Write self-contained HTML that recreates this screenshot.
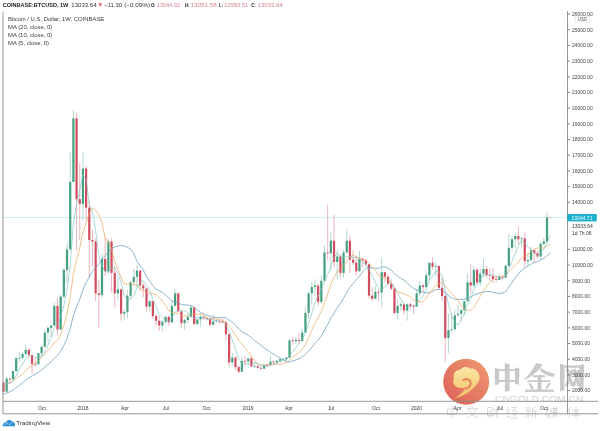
<!DOCTYPE html>
<html><head><meta charset="utf-8"><style>
html,body{margin:0;padding:0;background:#fff;}
body{width:600px;height:431px;overflow:hidden;position:relative;}
svg{position:absolute;left:0;top:0;filter:blur(0.4px);}
text{font-family:"Liberation Sans",sans-serif;}
</style></head><body>
<svg width="600" height="431" viewBox="0 0 600 431">
<rect x="0" y="0" width="600" height="431" fill="#fff"/>
<!-- price line -->
<line x1="3" y1="217.4" x2="567" y2="217.4" stroke="#cdeef0" stroke-width="1"/>
<g>
<line x1="3.47" y1="380.87" x2="3.47" y2="393.11" stroke="#d04c5e" stroke-width="0.6" stroke-opacity="0.7"/>
<rect x="2.37" y="382.75" width="2.2" height="8.94" fill="#d04c5e"/>
<line x1="6.65" y1="376.48" x2="6.65" y2="392.48" stroke="#45a07f" stroke-width="0.6" stroke-opacity="0.7"/>
<rect x="5.55" y="378.68" width="2.2" height="13.02" fill="#45a07f"/>
<line x1="9.82" y1="378.05" x2="9.82" y2="384.01" stroke="#d04c5e" stroke-width="0.6" stroke-opacity="0.7"/>
<rect x="8.72" y="378.68" width="2.2" height="0.80" fill="#d04c5e"/>
<line x1="13.00" y1="370.20" x2="13.00" y2="380.40" stroke="#45a07f" stroke-width="0.6" stroke-opacity="0.7"/>
<rect x="11.90" y="371.14" width="2.2" height="8.00" fill="#45a07f"/>
<line x1="16.18" y1="356.08" x2="16.18" y2="371.77" stroke="#45a07f" stroke-width="0.6" stroke-opacity="0.7"/>
<rect x="15.08" y="358.28" width="2.2" height="12.87" fill="#45a07f"/>
<line x1="19.36" y1="351.69" x2="19.36" y2="361.57" stroke="#45a07f" stroke-width="0.6" stroke-opacity="0.7"/>
<rect x="18.26" y="357.81" width="2.2" height="0.80" fill="#45a07f"/>
<line x1="22.54" y1="351.69" x2="22.54" y2="359.53" stroke="#45a07f" stroke-width="0.6" stroke-opacity="0.7"/>
<rect x="21.44" y="353.89" width="2.2" height="3.92" fill="#45a07f"/>
<line x1="25.72" y1="344.63" x2="25.72" y2="354.51" stroke="#45a07f" stroke-width="0.6" stroke-opacity="0.7"/>
<rect x="24.62" y="349.81" width="2.2" height="4.08" fill="#45a07f"/>
<line x1="28.90" y1="348.24" x2="28.90" y2="359.22" stroke="#d04c5e" stroke-width="0.6" stroke-opacity="0.7"/>
<rect x="27.80" y="349.81" width="2.2" height="5.18" fill="#d04c5e"/>
<line x1="32.07" y1="354.98" x2="32.07" y2="373.81" stroke="#d04c5e" stroke-width="0.6" stroke-opacity="0.7"/>
<rect x="30.97" y="354.98" width="2.2" height="8.94" fill="#d04c5e"/>
<line x1="35.25" y1="357.65" x2="35.25" y2="367.06" stroke="#d04c5e" stroke-width="0.6" stroke-opacity="0.7"/>
<rect x="34.15" y="363.93" width="2.2" height="0.80" fill="#d04c5e"/>
<line x1="38.43" y1="352.94" x2="38.43" y2="364.71" stroke="#45a07f" stroke-width="0.6" stroke-opacity="0.7"/>
<rect x="37.33" y="353.26" width="2.2" height="10.98" fill="#45a07f"/>
<line x1="41.61" y1="345.88" x2="41.61" y2="356.08" stroke="#45a07f" stroke-width="0.6" stroke-opacity="0.7"/>
<rect x="40.51" y="346.82" width="2.2" height="6.43" fill="#45a07f"/>
<line x1="44.79" y1="330.19" x2="44.79" y2="347.14" stroke="#45a07f" stroke-width="0.6" stroke-opacity="0.7"/>
<rect x="43.69" y="332.55" width="2.2" height="14.28" fill="#45a07f"/>
<line x1="47.97" y1="326.27" x2="47.97" y2="341.96" stroke="#45a07f" stroke-width="0.6" stroke-opacity="0.7"/>
<rect x="46.87" y="327.84" width="2.2" height="4.71" fill="#45a07f"/>
<line x1="51.15" y1="324.70" x2="51.15" y2="337.25" stroke="#45a07f" stroke-width="0.6" stroke-opacity="0.7"/>
<rect x="50.05" y="325.49" width="2.2" height="2.35" fill="#45a07f"/>
<line x1="54.32" y1="302.74" x2="54.32" y2="326.27" stroke="#45a07f" stroke-width="0.6" stroke-opacity="0.7"/>
<rect x="53.22" y="305.87" width="2.2" height="19.61" fill="#45a07f"/>
<line x1="57.50" y1="298.34" x2="57.50" y2="335.69" stroke="#d04c5e" stroke-width="0.6" stroke-opacity="0.7"/>
<rect x="56.40" y="305.87" width="2.2" height="23.54" fill="#d04c5e"/>
<line x1="60.68" y1="294.89" x2="60.68" y2="330.19" stroke="#45a07f" stroke-width="0.6" stroke-opacity="0.7"/>
<rect x="59.58" y="296.46" width="2.2" height="32.95" fill="#45a07f"/>
<line x1="63.86" y1="268.22" x2="63.86" y2="298.03" stroke="#45a07f" stroke-width="0.6" stroke-opacity="0.7"/>
<rect x="62.76" y="269.79" width="2.2" height="26.67" fill="#45a07f"/>
<line x1="67.04" y1="243.11" x2="67.04" y2="282.34" stroke="#45a07f" stroke-width="0.6" stroke-opacity="0.7"/>
<rect x="65.94" y="249.39" width="2.2" height="20.40" fill="#45a07f"/>
<line x1="70.22" y1="152.11" x2="70.22" y2="249.39" stroke="#45a07f" stroke-width="0.6" stroke-opacity="0.7"/>
<rect x="69.12" y="181.92" width="2.2" height="67.47" fill="#45a07f"/>
<line x1="73.39" y1="109.91" x2="73.39" y2="181.92" stroke="#45a07f" stroke-width="0.6" stroke-opacity="0.7"/>
<rect x="72.30" y="118.38" width="2.2" height="63.54" fill="#45a07f"/>
<line x1="76.57" y1="112.89" x2="76.57" y2="250.96" stroke="#d04c5e" stroke-width="0.6" stroke-opacity="0.7"/>
<rect x="75.47" y="118.38" width="2.2" height="80.80" fill="#d04c5e"/>
<line x1="79.75" y1="163.10" x2="79.75" y2="239.98" stroke="#d04c5e" stroke-width="0.6" stroke-opacity="0.7"/>
<rect x="78.65" y="199.18" width="2.2" height="4.71" fill="#d04c5e"/>
<line x1="82.93" y1="152.11" x2="82.93" y2="221.15" stroke="#45a07f" stroke-width="0.6" stroke-opacity="0.7"/>
<rect x="81.83" y="168.59" width="2.2" height="35.30" fill="#45a07f"/>
<line x1="86.11" y1="166.23" x2="86.11" y2="221.15" stroke="#d04c5e" stroke-width="0.6" stroke-opacity="0.7"/>
<rect x="85.01" y="168.59" width="2.2" height="39.07" fill="#d04c5e"/>
<line x1="89.29" y1="200.75" x2="89.29" y2="277.63" stroke="#d04c5e" stroke-width="0.6" stroke-opacity="0.7"/>
<rect x="88.19" y="207.65" width="2.2" height="32.32" fill="#d04c5e"/>
<line x1="92.47" y1="229.78" x2="92.47" y2="266.65" stroke="#d04c5e" stroke-width="0.6" stroke-opacity="0.7"/>
<rect x="91.37" y="239.98" width="2.2" height="1.57" fill="#d04c5e"/>
<line x1="95.64" y1="238.41" x2="95.64" y2="301.17" stroke="#d04c5e" stroke-width="0.6" stroke-opacity="0.7"/>
<rect x="94.54" y="241.55" width="2.2" height="51.78" fill="#d04c5e"/>
<line x1="98.82" y1="279.20" x2="98.82" y2="327.84" stroke="#d04c5e" stroke-width="0.6" stroke-opacity="0.7"/>
<rect x="97.72" y="293.32" width="2.2" height="1.57" fill="#d04c5e"/>
<line x1="102.00" y1="254.10" x2="102.00" y2="298.03" stroke="#45a07f" stroke-width="0.6" stroke-opacity="0.7"/>
<rect x="100.90" y="258.80" width="2.2" height="36.09" fill="#45a07f"/>
<line x1="105.18" y1="236.84" x2="105.18" y2="276.06" stroke="#d04c5e" stroke-width="0.6" stroke-opacity="0.7"/>
<rect x="104.08" y="258.80" width="2.2" height="12.55" fill="#d04c5e"/>
<line x1="108.36" y1="238.41" x2="108.36" y2="274.49" stroke="#45a07f" stroke-width="0.6" stroke-opacity="0.7"/>
<rect x="107.26" y="241.55" width="2.2" height="29.81" fill="#45a07f"/>
<line x1="111.54" y1="238.41" x2="111.54" y2="291.75" stroke="#d04c5e" stroke-width="0.6" stroke-opacity="0.7"/>
<rect x="110.44" y="241.55" width="2.2" height="31.38" fill="#d04c5e"/>
<line x1="114.72" y1="266.65" x2="114.72" y2="307.44" stroke="#d04c5e" stroke-width="0.6" stroke-opacity="0.7"/>
<rect x="113.62" y="272.93" width="2.2" height="20.40" fill="#d04c5e"/>
<line x1="117.89" y1="277.63" x2="117.89" y2="299.60" stroke="#45a07f" stroke-width="0.6" stroke-opacity="0.7"/>
<rect x="116.79" y="289.40" width="2.2" height="3.92" fill="#45a07f"/>
<line x1="121.07" y1="288.62" x2="121.07" y2="320.78" stroke="#d04c5e" stroke-width="0.6" stroke-opacity="0.7"/>
<rect x="119.97" y="289.40" width="2.2" height="24.32" fill="#d04c5e"/>
<line x1="124.25" y1="309.01" x2="124.25" y2="320.00" stroke="#45a07f" stroke-width="0.6" stroke-opacity="0.7"/>
<rect x="123.15" y="312.15" width="2.2" height="1.57" fill="#45a07f"/>
<line x1="127.43" y1="290.18" x2="127.43" y2="318.43" stroke="#45a07f" stroke-width="0.6" stroke-opacity="0.7"/>
<rect x="126.33" y="295.68" width="2.2" height="16.47" fill="#45a07f"/>
<line x1="130.61" y1="280.77" x2="130.61" y2="299.60" stroke="#45a07f" stroke-width="0.6" stroke-opacity="0.7"/>
<rect x="129.51" y="282.34" width="2.2" height="13.34" fill="#45a07f"/>
<line x1="133.79" y1="269.00" x2="133.79" y2="284.69" stroke="#45a07f" stroke-width="0.6" stroke-opacity="0.7"/>
<rect x="132.69" y="276.85" width="2.2" height="5.49" fill="#45a07f"/>
<line x1="136.97" y1="265.24" x2="136.97" y2="287.05" stroke="#45a07f" stroke-width="0.6" stroke-opacity="0.7"/>
<rect x="135.87" y="270.57" width="2.2" height="6.28" fill="#45a07f"/>
<line x1="140.14" y1="270.57" x2="140.14" y2="290.97" stroke="#d04c5e" stroke-width="0.6" stroke-opacity="0.7"/>
<rect x="139.04" y="270.57" width="2.2" height="14.91" fill="#d04c5e"/>
<line x1="143.32" y1="282.65" x2="143.32" y2="297.24" stroke="#d04c5e" stroke-width="0.6" stroke-opacity="0.7"/>
<rect x="142.22" y="285.48" width="2.2" height="3.14" fill="#d04c5e"/>
<line x1="146.50" y1="287.83" x2="146.50" y2="311.37" stroke="#d04c5e" stroke-width="0.6" stroke-opacity="0.7"/>
<rect x="145.40" y="288.62" width="2.2" height="18.04" fill="#d04c5e"/>
<line x1="149.68" y1="300.38" x2="149.68" y2="311.37" stroke="#45a07f" stroke-width="0.6" stroke-opacity="0.7"/>
<rect x="148.58" y="301.17" width="2.2" height="5.49" fill="#45a07f"/>
<line x1="152.86" y1="300.38" x2="152.86" y2="318.43" stroke="#d04c5e" stroke-width="0.6" stroke-opacity="0.7"/>
<rect x="151.76" y="301.17" width="2.2" height="14.91" fill="#d04c5e"/>
<line x1="156.04" y1="314.50" x2="156.04" y2="326.27" stroke="#d04c5e" stroke-width="0.6" stroke-opacity="0.7"/>
<rect x="154.94" y="316.07" width="2.2" height="4.71" fill="#d04c5e"/>
<line x1="159.21" y1="315.29" x2="159.21" y2="330.98" stroke="#d04c5e" stroke-width="0.6" stroke-opacity="0.7"/>
<rect x="158.11" y="320.78" width="2.2" height="4.71" fill="#d04c5e"/>
<line x1="162.39" y1="319.21" x2="162.39" y2="331.29" stroke="#45a07f" stroke-width="0.6" stroke-opacity="0.7"/>
<rect x="161.29" y="321.88" width="2.2" height="3.61" fill="#45a07f"/>
<line x1="165.57" y1="316.07" x2="165.57" y2="323.92" stroke="#45a07f" stroke-width="0.6" stroke-opacity="0.7"/>
<rect x="164.47" y="316.86" width="2.2" height="5.02" fill="#45a07f"/>
<line x1="168.75" y1="315.29" x2="168.75" y2="326.27" stroke="#d04c5e" stroke-width="0.6" stroke-opacity="0.7"/>
<rect x="167.65" y="316.86" width="2.2" height="5.49" fill="#d04c5e"/>
<line x1="171.93" y1="301.17" x2="171.93" y2="323.13" stroke="#45a07f" stroke-width="0.6" stroke-opacity="0.7"/>
<rect x="170.83" y="305.87" width="2.2" height="16.47" fill="#45a07f"/>
<line x1="175.11" y1="288.62" x2="175.11" y2="305.87" stroke="#45a07f" stroke-width="0.6" stroke-opacity="0.7"/>
<rect x="174.01" y="293.32" width="2.2" height="12.55" fill="#45a07f"/>
<line x1="178.29" y1="292.54" x2="178.29" y2="312.15" stroke="#d04c5e" stroke-width="0.6" stroke-opacity="0.7"/>
<rect x="177.19" y="293.32" width="2.2" height="18.04" fill="#d04c5e"/>
<line x1="181.46" y1="309.80" x2="181.46" y2="328.62" stroke="#d04c5e" stroke-width="0.6" stroke-opacity="0.7"/>
<rect x="180.36" y="311.37" width="2.2" height="11.77" fill="#d04c5e"/>
<line x1="184.64" y1="318.43" x2="184.64" y2="329.72" stroke="#45a07f" stroke-width="0.6" stroke-opacity="0.7"/>
<rect x="183.54" y="320.00" width="2.2" height="3.14" fill="#45a07f"/>
<line x1="187.82" y1="313.72" x2="187.82" y2="323.13" stroke="#45a07f" stroke-width="0.6" stroke-opacity="0.7"/>
<rect x="186.72" y="316.86" width="2.2" height="3.14" fill="#45a07f"/>
<line x1="191.00" y1="305.87" x2="191.00" y2="317.64" stroke="#45a07f" stroke-width="0.6" stroke-opacity="0.7"/>
<rect x="189.90" y="307.44" width="2.2" height="9.41" fill="#45a07f"/>
<line x1="194.18" y1="305.87" x2="194.18" y2="325.49" stroke="#d04c5e" stroke-width="0.6" stroke-opacity="0.7"/>
<rect x="193.08" y="307.44" width="2.2" height="16.47" fill="#d04c5e"/>
<line x1="197.36" y1="318.43" x2="197.36" y2="325.49" stroke="#45a07f" stroke-width="0.6" stroke-opacity="0.7"/>
<rect x="196.26" y="319.37" width="2.2" height="4.55" fill="#45a07f"/>
<line x1="200.54" y1="313.72" x2="200.54" y2="326.27" stroke="#45a07f" stroke-width="0.6" stroke-opacity="0.7"/>
<rect x="199.44" y="316.86" width="2.2" height="2.51" fill="#45a07f"/>
<line x1="203.71" y1="315.29" x2="203.71" y2="320.00" stroke="#d04c5e" stroke-width="0.6" stroke-opacity="0.7"/>
<rect x="202.61" y="316.86" width="2.2" height="1.26" fill="#d04c5e"/>
<line x1="206.89" y1="316.86" x2="206.89" y2="320.78" stroke="#d04c5e" stroke-width="0.6" stroke-opacity="0.7"/>
<rect x="205.79" y="318.11" width="2.2" height="0.80" fill="#d04c5e"/>
<line x1="210.07" y1="317.64" x2="210.07" y2="325.49" stroke="#d04c5e" stroke-width="0.6" stroke-opacity="0.7"/>
<rect x="208.97" y="318.43" width="2.2" height="6.28" fill="#d04c5e"/>
<line x1="213.25" y1="314.50" x2="213.25" y2="325.49" stroke="#45a07f" stroke-width="0.6" stroke-opacity="0.7"/>
<rect x="212.15" y="321.56" width="2.2" height="3.14" fill="#45a07f"/>
<line x1="216.43" y1="318.43" x2="216.43" y2="322.35" stroke="#45a07f" stroke-width="0.6" stroke-opacity="0.7"/>
<rect x="215.33" y="320.78" width="2.2" height="0.80" fill="#45a07f"/>
<line x1="219.61" y1="319.21" x2="219.61" y2="323.92" stroke="#d04c5e" stroke-width="0.6" stroke-opacity="0.7"/>
<rect x="218.51" y="320.78" width="2.2" height="0.80" fill="#d04c5e"/>
<line x1="222.78" y1="318.43" x2="222.78" y2="323.13" stroke="#d04c5e" stroke-width="0.6" stroke-opacity="0.7"/>
<rect x="221.68" y="321.56" width="2.2" height="0.80" fill="#d04c5e"/>
<line x1="225.96" y1="321.56" x2="225.96" y2="340.39" stroke="#d04c5e" stroke-width="0.6" stroke-opacity="0.7"/>
<rect x="224.86" y="322.35" width="2.2" height="11.77" fill="#d04c5e"/>
<line x1="229.14" y1="334.12" x2="229.14" y2="367.06" stroke="#d04c5e" stroke-width="0.6" stroke-opacity="0.7"/>
<rect x="228.04" y="334.12" width="2.2" height="28.24" fill="#d04c5e"/>
<line x1="232.32" y1="352.94" x2="232.32" y2="365.50" stroke="#45a07f" stroke-width="0.6" stroke-opacity="0.7"/>
<rect x="231.22" y="357.65" width="2.2" height="4.71" fill="#45a07f"/>
<line x1="235.50" y1="356.08" x2="235.50" y2="370.20" stroke="#d04c5e" stroke-width="0.6" stroke-opacity="0.7"/>
<rect x="234.40" y="357.65" width="2.2" height="9.41" fill="#d04c5e"/>
<line x1="238.68" y1="365.50" x2="238.68" y2="373.03" stroke="#d04c5e" stroke-width="0.6" stroke-opacity="0.7"/>
<rect x="237.58" y="367.06" width="2.2" height="4.71" fill="#d04c5e"/>
<line x1="241.86" y1="356.08" x2="241.86" y2="371.77" stroke="#45a07f" stroke-width="0.6" stroke-opacity="0.7"/>
<rect x="240.76" y="360.79" width="2.2" height="10.98" fill="#45a07f"/>
<line x1="245.03" y1="356.08" x2="245.03" y2="366.28" stroke="#d04c5e" stroke-width="0.6" stroke-opacity="0.7"/>
<rect x="243.93" y="360.79" width="2.2" height="0.80" fill="#d04c5e"/>
<line x1="248.21" y1="357.65" x2="248.21" y2="364.87" stroke="#45a07f" stroke-width="0.6" stroke-opacity="0.7"/>
<rect x="247.11" y="358.44" width="2.2" height="3.14" fill="#45a07f"/>
<line x1="251.39" y1="356.08" x2="251.39" y2="367.06" stroke="#d04c5e" stroke-width="0.6" stroke-opacity="0.7"/>
<rect x="250.29" y="358.44" width="2.2" height="7.84" fill="#d04c5e"/>
<line x1="254.57" y1="362.36" x2="254.57" y2="367.85" stroke="#45a07f" stroke-width="0.6" stroke-opacity="0.7"/>
<rect x="253.47" y="366.28" width="2.2" height="0.80" fill="#45a07f"/>
<line x1="257.75" y1="364.71" x2="257.75" y2="367.85" stroke="#d04c5e" stroke-width="0.6" stroke-opacity="0.7"/>
<rect x="256.65" y="366.28" width="2.2" height="1.57" fill="#d04c5e"/>
<line x1="260.93" y1="366.28" x2="260.93" y2="369.42" stroke="#d04c5e" stroke-width="0.6" stroke-opacity="0.7"/>
<rect x="259.83" y="367.85" width="2.2" height="0.80" fill="#d04c5e"/>
<line x1="264.11" y1="363.93" x2="264.11" y2="369.42" stroke="#45a07f" stroke-width="0.6" stroke-opacity="0.7"/>
<rect x="263.00" y="364.71" width="2.2" height="3.92" fill="#45a07f"/>
<line x1="267.28" y1="363.14" x2="267.28" y2="366.12" stroke="#d04c5e" stroke-width="0.6" stroke-opacity="0.7"/>
<rect x="266.18" y="364.71" width="2.2" height="0.80" fill="#d04c5e"/>
<line x1="270.46" y1="356.08" x2="270.46" y2="365.50" stroke="#45a07f" stroke-width="0.6" stroke-opacity="0.7"/>
<rect x="269.36" y="361.57" width="2.2" height="3.61" fill="#45a07f"/>
<line x1="273.64" y1="360.79" x2="273.64" y2="364.40" stroke="#d04c5e" stroke-width="0.6" stroke-opacity="0.7"/>
<rect x="272.54" y="361.57" width="2.2" height="0.80" fill="#d04c5e"/>
<line x1="276.82" y1="360.00" x2="276.82" y2="363.93" stroke="#45a07f" stroke-width="0.6" stroke-opacity="0.7"/>
<rect x="275.72" y="360.79" width="2.2" height="1.57" fill="#45a07f"/>
<line x1="280.00" y1="358.44" x2="280.00" y2="362.04" stroke="#45a07f" stroke-width="0.6" stroke-opacity="0.7"/>
<rect x="278.90" y="359.22" width="2.2" height="1.57" fill="#45a07f"/>
<line x1="283.18" y1="357.65" x2="283.18" y2="360.79" stroke="#45a07f" stroke-width="0.6" stroke-opacity="0.7"/>
<rect x="282.08" y="359.06" width="2.2" height="0.80" fill="#45a07f"/>
<line x1="286.35" y1="356.87" x2="286.35" y2="360.79" stroke="#45a07f" stroke-width="0.6" stroke-opacity="0.7"/>
<rect x="285.25" y="357.65" width="2.2" height="1.41" fill="#45a07f"/>
<line x1="289.53" y1="338.82" x2="289.53" y2="357.65" stroke="#45a07f" stroke-width="0.6" stroke-opacity="0.7"/>
<rect x="288.43" y="340.39" width="2.2" height="17.26" fill="#45a07f"/>
<line x1="292.71" y1="337.25" x2="292.71" y2="345.10" stroke="#d04c5e" stroke-width="0.6" stroke-opacity="0.7"/>
<rect x="291.61" y="340.39" width="2.2" height="0.80" fill="#d04c5e"/>
<line x1="295.89" y1="337.25" x2="295.89" y2="344.31" stroke="#45a07f" stroke-width="0.6" stroke-opacity="0.7"/>
<rect x="294.79" y="339.92" width="2.2" height="1.26" fill="#45a07f"/>
<line x1="299.07" y1="333.33" x2="299.07" y2="343.53" stroke="#d04c5e" stroke-width="0.6" stroke-opacity="0.7"/>
<rect x="297.97" y="339.92" width="2.2" height="0.94" fill="#d04c5e"/>
<line x1="302.25" y1="328.62" x2="302.25" y2="341.96" stroke="#45a07f" stroke-width="0.6" stroke-opacity="0.7"/>
<rect x="301.15" y="332.55" width="2.2" height="8.32" fill="#45a07f"/>
<line x1="305.43" y1="307.44" x2="305.43" y2="332.55" stroke="#45a07f" stroke-width="0.6" stroke-opacity="0.7"/>
<rect x="304.33" y="312.93" width="2.2" height="19.61" fill="#45a07f"/>
<line x1="308.60" y1="291.75" x2="308.60" y2="319.21" stroke="#45a07f" stroke-width="0.6" stroke-opacity="0.7"/>
<rect x="307.50" y="293.32" width="2.2" height="19.61" fill="#45a07f"/>
<line x1="311.78" y1="281.55" x2="311.78" y2="304.31" stroke="#45a07f" stroke-width="0.6" stroke-opacity="0.7"/>
<rect x="310.68" y="287.05" width="2.2" height="6.28" fill="#45a07f"/>
<line x1="314.96" y1="279.20" x2="314.96" y2="296.46" stroke="#45a07f" stroke-width="0.6" stroke-opacity="0.7"/>
<rect x="313.86" y="285.48" width="2.2" height="1.57" fill="#45a07f"/>
<line x1="318.14" y1="283.91" x2="318.14" y2="305.09" stroke="#d04c5e" stroke-width="0.6" stroke-opacity="0.7"/>
<rect x="317.04" y="285.48" width="2.2" height="16.47" fill="#d04c5e"/>
<line x1="321.32" y1="275.28" x2="321.32" y2="304.31" stroke="#45a07f" stroke-width="0.6" stroke-opacity="0.7"/>
<rect x="320.22" y="280.77" width="2.2" height="21.18" fill="#45a07f"/>
<line x1="324.50" y1="245.47" x2="324.50" y2="281.55" stroke="#45a07f" stroke-width="0.6" stroke-opacity="0.7"/>
<rect x="323.40" y="252.53" width="2.2" height="28.24" fill="#45a07f"/>
<line x1="327.68" y1="204.67" x2="327.68" y2="260.37" stroke="#d04c5e" stroke-width="0.6" stroke-opacity="0.7"/>
<rect x="326.57" y="252.53" width="2.2" height="0.80" fill="#d04c5e"/>
<line x1="330.85" y1="232.13" x2="330.85" y2="271.36" stroke="#45a07f" stroke-width="0.6" stroke-opacity="0.7"/>
<rect x="329.75" y="240.76" width="2.2" height="12.55" fill="#45a07f"/>
<line x1="334.03" y1="214.87" x2="334.03" y2="267.43" stroke="#d04c5e" stroke-width="0.6" stroke-opacity="0.7"/>
<rect x="332.93" y="240.76" width="2.2" height="21.18" fill="#d04c5e"/>
<line x1="337.21" y1="250.17" x2="337.21" y2="279.20" stroke="#45a07f" stroke-width="0.6" stroke-opacity="0.7"/>
<rect x="336.11" y="256.45" width="2.2" height="5.49" fill="#45a07f"/>
<line x1="340.39" y1="254.10" x2="340.39" y2="277.63" stroke="#d04c5e" stroke-width="0.6" stroke-opacity="0.7"/>
<rect x="339.29" y="256.45" width="2.2" height="16.47" fill="#d04c5e"/>
<line x1="343.57" y1="250.17" x2="343.57" y2="277.63" stroke="#45a07f" stroke-width="0.6" stroke-opacity="0.7"/>
<rect x="342.47" y="252.53" width="2.2" height="20.40" fill="#45a07f"/>
<line x1="346.75" y1="228.99" x2="346.75" y2="252.53" stroke="#45a07f" stroke-width="0.6" stroke-opacity="0.7"/>
<rect x="345.65" y="240.76" width="2.2" height="11.77" fill="#45a07f"/>
<line x1="349.92" y1="235.27" x2="349.92" y2="272.93" stroke="#d04c5e" stroke-width="0.6" stroke-opacity="0.7"/>
<rect x="348.82" y="240.76" width="2.2" height="18.83" fill="#d04c5e"/>
<line x1="353.10" y1="250.17" x2="353.10" y2="265.08" stroke="#d04c5e" stroke-width="0.6" stroke-opacity="0.7"/>
<rect x="352.00" y="259.59" width="2.2" height="3.14" fill="#d04c5e"/>
<line x1="356.28" y1="255.67" x2="356.28" y2="275.28" stroke="#d04c5e" stroke-width="0.6" stroke-opacity="0.7"/>
<rect x="355.18" y="262.73" width="2.2" height="8.63" fill="#d04c5e"/>
<line x1="359.46" y1="250.96" x2="359.46" y2="271.36" stroke="#45a07f" stroke-width="0.6" stroke-opacity="0.7"/>
<rect x="358.36" y="258.80" width="2.2" height="12.55" fill="#45a07f"/>
<line x1="362.64" y1="258.02" x2="362.64" y2="267.43" stroke="#d04c5e" stroke-width="0.6" stroke-opacity="0.7"/>
<rect x="361.54" y="258.80" width="2.2" height="1.57" fill="#d04c5e"/>
<line x1="365.82" y1="259.59" x2="365.82" y2="266.65" stroke="#d04c5e" stroke-width="0.6" stroke-opacity="0.7"/>
<rect x="364.72" y="260.37" width="2.2" height="3.92" fill="#d04c5e"/>
<line x1="369.00" y1="264.30" x2="369.00" y2="298.81" stroke="#d04c5e" stroke-width="0.6" stroke-opacity="0.7"/>
<rect x="367.90" y="264.30" width="2.2" height="31.38" fill="#d04c5e"/>
<line x1="372.17" y1="287.05" x2="372.17" y2="301.17" stroke="#d04c5e" stroke-width="0.6" stroke-opacity="0.7"/>
<rect x="371.07" y="295.68" width="2.2" height="3.14" fill="#d04c5e"/>
<line x1="375.35" y1="285.48" x2="375.35" y2="298.81" stroke="#45a07f" stroke-width="0.6" stroke-opacity="0.7"/>
<rect x="374.25" y="291.75" width="2.2" height="7.06" fill="#45a07f"/>
<line x1="378.53" y1="289.40" x2="378.53" y2="301.17" stroke="#d04c5e" stroke-width="0.6" stroke-opacity="0.7"/>
<rect x="377.43" y="291.75" width="2.2" height="0.80" fill="#d04c5e"/>
<line x1="381.71" y1="257.24" x2="381.71" y2="307.44" stroke="#45a07f" stroke-width="0.6" stroke-opacity="0.7"/>
<rect x="380.61" y="272.14" width="2.2" height="20.40" fill="#45a07f"/>
<line x1="384.89" y1="272.14" x2="384.89" y2="282.34" stroke="#d04c5e" stroke-width="0.6" stroke-opacity="0.7"/>
<rect x="383.79" y="272.14" width="2.2" height="4.71" fill="#d04c5e"/>
<line x1="388.07" y1="273.71" x2="388.07" y2="285.48" stroke="#d04c5e" stroke-width="0.6" stroke-opacity="0.7"/>
<rect x="386.97" y="276.85" width="2.2" height="7.06" fill="#d04c5e"/>
<line x1="391.25" y1="279.20" x2="391.25" y2="290.18" stroke="#d04c5e" stroke-width="0.6" stroke-opacity="0.7"/>
<rect x="390.14" y="283.91" width="2.2" height="4.71" fill="#d04c5e"/>
<line x1="394.42" y1="288.62" x2="394.42" y2="314.50" stroke="#d04c5e" stroke-width="0.6" stroke-opacity="0.7"/>
<rect x="393.32" y="288.62" width="2.2" height="24.32" fill="#d04c5e"/>
<line x1="397.60" y1="298.81" x2="397.60" y2="319.21" stroke="#45a07f" stroke-width="0.6" stroke-opacity="0.7"/>
<rect x="396.50" y="305.87" width="2.2" height="7.06" fill="#45a07f"/>
<line x1="400.78" y1="301.95" x2="400.78" y2="310.58" stroke="#45a07f" stroke-width="0.6" stroke-opacity="0.7"/>
<rect x="399.68" y="304.31" width="2.2" height="1.57" fill="#45a07f"/>
<line x1="403.96" y1="303.52" x2="403.96" y2="314.50" stroke="#d04c5e" stroke-width="0.6" stroke-opacity="0.7"/>
<rect x="402.86" y="304.31" width="2.2" height="6.28" fill="#d04c5e"/>
<line x1="407.14" y1="303.52" x2="407.14" y2="320.78" stroke="#45a07f" stroke-width="0.6" stroke-opacity="0.7"/>
<rect x="406.04" y="304.31" width="2.2" height="6.28" fill="#45a07f"/>
<line x1="410.32" y1="301.95" x2="410.32" y2="309.80" stroke="#d04c5e" stroke-width="0.6" stroke-opacity="0.7"/>
<rect x="409.22" y="304.31" width="2.2" height="1.57" fill="#d04c5e"/>
<line x1="413.49" y1="304.31" x2="413.49" y2="314.50" stroke="#d04c5e" stroke-width="0.6" stroke-opacity="0.7"/>
<rect x="412.39" y="305.87" width="2.2" height="0.80" fill="#d04c5e"/>
<line x1="416.67" y1="289.40" x2="416.67" y2="306.66" stroke="#45a07f" stroke-width="0.6" stroke-opacity="0.7"/>
<rect x="415.57" y="293.32" width="2.2" height="13.34" fill="#45a07f"/>
<line x1="419.85" y1="280.77" x2="419.85" y2="296.46" stroke="#45a07f" stroke-width="0.6" stroke-opacity="0.7"/>
<rect x="418.75" y="285.48" width="2.2" height="7.84" fill="#45a07f"/>
<line x1="423.03" y1="283.91" x2="423.03" y2="292.54" stroke="#d04c5e" stroke-width="0.6" stroke-opacity="0.7"/>
<rect x="421.93" y="285.48" width="2.2" height="1.57" fill="#d04c5e"/>
<line x1="426.21" y1="271.36" x2="426.21" y2="287.83" stroke="#45a07f" stroke-width="0.6" stroke-opacity="0.7"/>
<rect x="425.11" y="275.28" width="2.2" height="11.77" fill="#45a07f"/>
<line x1="429.39" y1="262.73" x2="429.39" y2="279.99" stroke="#45a07f" stroke-width="0.6" stroke-opacity="0.7"/>
<rect x="428.29" y="262.73" width="2.2" height="12.55" fill="#45a07f"/>
<line x1="432.57" y1="257.24" x2="432.57" y2="269.79" stroke="#d04c5e" stroke-width="0.6" stroke-opacity="0.7"/>
<rect x="431.47" y="262.73" width="2.2" height="3.92" fill="#d04c5e"/>
<line x1="435.74" y1="261.94" x2="435.74" y2="276.06" stroke="#45a07f" stroke-width="0.6" stroke-opacity="0.7"/>
<rect x="434.64" y="265.86" width="2.2" height="0.80" fill="#45a07f"/>
<line x1="438.92" y1="265.86" x2="438.92" y2="289.40" stroke="#d04c5e" stroke-width="0.6" stroke-opacity="0.7"/>
<rect x="437.82" y="265.86" width="2.2" height="21.97" fill="#d04c5e"/>
<line x1="442.10" y1="277.63" x2="442.10" y2="301.95" stroke="#d04c5e" stroke-width="0.6" stroke-opacity="0.7"/>
<rect x="441.00" y="287.83" width="2.2" height="8.16" fill="#d04c5e"/>
<line x1="445.28" y1="293.32" x2="445.28" y2="361.57" stroke="#d04c5e" stroke-width="0.6" stroke-opacity="0.7"/>
<rect x="444.18" y="295.99" width="2.2" height="42.05" fill="#d04c5e"/>
<line x1="448.46" y1="313.72" x2="448.46" y2="352.94" stroke="#45a07f" stroke-width="0.6" stroke-opacity="0.7"/>
<rect x="447.36" y="330.19" width="2.2" height="7.84" fill="#45a07f"/>
<line x1="451.64" y1="312.93" x2="451.64" y2="332.55" stroke="#45a07f" stroke-width="0.6" stroke-opacity="0.7"/>
<rect x="450.54" y="329.41" width="2.2" height="0.80" fill="#45a07f"/>
<line x1="454.82" y1="309.01" x2="454.82" y2="329.41" stroke="#45a07f" stroke-width="0.6" stroke-opacity="0.7"/>
<rect x="453.72" y="315.29" width="2.2" height="14.12" fill="#45a07f"/>
<line x1="457.99" y1="305.09" x2="457.99" y2="315.29" stroke="#45a07f" stroke-width="0.6" stroke-opacity="0.7"/>
<rect x="456.89" y="313.72" width="2.2" height="1.57" fill="#45a07f"/>
<line x1="461.17" y1="309.01" x2="461.17" y2="320.78" stroke="#45a07f" stroke-width="0.6" stroke-opacity="0.7"/>
<rect x="460.07" y="310.11" width="2.2" height="3.61" fill="#45a07f"/>
<line x1="464.35" y1="300.38" x2="464.35" y2="315.29" stroke="#45a07f" stroke-width="0.6" stroke-opacity="0.7"/>
<rect x="463.25" y="301.17" width="2.2" height="8.94" fill="#45a07f"/>
<line x1="467.53" y1="273.71" x2="467.53" y2="301.17" stroke="#45a07f" stroke-width="0.6" stroke-opacity="0.7"/>
<rect x="466.43" y="282.34" width="2.2" height="18.83" fill="#45a07f"/>
<line x1="470.71" y1="264.30" x2="470.71" y2="294.11" stroke="#d04c5e" stroke-width="0.6" stroke-opacity="0.7"/>
<rect x="469.61" y="282.34" width="2.2" height="3.14" fill="#d04c5e"/>
<line x1="473.89" y1="265.86" x2="473.89" y2="287.83" stroke="#45a07f" stroke-width="0.6" stroke-opacity="0.7"/>
<rect x="472.79" y="269.79" width="2.2" height="15.69" fill="#45a07f"/>
<line x1="477.06" y1="267.43" x2="477.06" y2="283.91" stroke="#d04c5e" stroke-width="0.6" stroke-opacity="0.7"/>
<rect x="475.96" y="269.79" width="2.2" height="12.55" fill="#d04c5e"/>
<line x1="480.24" y1="269.00" x2="480.24" y2="286.26" stroke="#45a07f" stroke-width="0.6" stroke-opacity="0.7"/>
<rect x="479.14" y="273.71" width="2.2" height="8.63" fill="#45a07f"/>
<line x1="483.42" y1="258.80" x2="483.42" y2="276.85" stroke="#45a07f" stroke-width="0.6" stroke-opacity="0.7"/>
<rect x="482.32" y="269.00" width="2.2" height="4.71" fill="#45a07f"/>
<line x1="486.60" y1="265.86" x2="486.60" y2="277.63" stroke="#d04c5e" stroke-width="0.6" stroke-opacity="0.7"/>
<rect x="485.50" y="269.00" width="2.2" height="6.28" fill="#d04c5e"/>
<line x1="489.78" y1="268.22" x2="489.78" y2="280.77" stroke="#d04c5e" stroke-width="0.6" stroke-opacity="0.7"/>
<rect x="488.68" y="275.28" width="2.2" height="0.80" fill="#d04c5e"/>
<line x1="492.96" y1="268.22" x2="492.96" y2="283.12" stroke="#d04c5e" stroke-width="0.6" stroke-opacity="0.7"/>
<rect x="491.86" y="276.06" width="2.2" height="3.14" fill="#d04c5e"/>
<line x1="496.14" y1="276.06" x2="496.14" y2="282.34" stroke="#d04c5e" stroke-width="0.6" stroke-opacity="0.7"/>
<rect x="495.04" y="279.20" width="2.2" height="0.80" fill="#d04c5e"/>
<line x1="499.31" y1="273.71" x2="499.31" y2="279.99" stroke="#45a07f" stroke-width="0.6" stroke-opacity="0.7"/>
<rect x="498.21" y="276.85" width="2.2" height="3.14" fill="#45a07f"/>
<line x1="502.49" y1="275.28" x2="502.49" y2="280.77" stroke="#d04c5e" stroke-width="0.6" stroke-opacity="0.7"/>
<rect x="501.39" y="276.85" width="2.2" height="0.80" fill="#d04c5e"/>
<line x1="505.67" y1="264.30" x2="505.67" y2="278.42" stroke="#45a07f" stroke-width="0.6" stroke-opacity="0.7"/>
<rect x="504.57" y="265.86" width="2.2" height="11.77" fill="#45a07f"/>
<line x1="508.85" y1="233.70" x2="508.85" y2="266.65" stroke="#45a07f" stroke-width="0.6" stroke-opacity="0.7"/>
<rect x="507.75" y="247.82" width="2.2" height="18.04" fill="#45a07f"/>
<line x1="512.03" y1="235.27" x2="512.03" y2="250.17" stroke="#45a07f" stroke-width="0.6" stroke-opacity="0.7"/>
<rect x="510.93" y="239.19" width="2.2" height="8.63" fill="#45a07f"/>
<line x1="515.21" y1="232.13" x2="515.21" y2="247.82" stroke="#45a07f" stroke-width="0.6" stroke-opacity="0.7"/>
<rect x="514.11" y="236.05" width="2.2" height="3.14" fill="#45a07f"/>
<line x1="518.38" y1="226.64" x2="518.38" y2="244.68" stroke="#d04c5e" stroke-width="0.6" stroke-opacity="0.7"/>
<rect x="517.28" y="236.05" width="2.2" height="3.14" fill="#d04c5e"/>
<line x1="521.56" y1="236.84" x2="521.56" y2="247.04" stroke="#45a07f" stroke-width="0.6" stroke-opacity="0.7"/>
<rect x="520.46" y="238.41" width="2.2" height="0.80" fill="#45a07f"/>
<line x1="524.74" y1="232.13" x2="524.74" y2="266.65" stroke="#d04c5e" stroke-width="0.6" stroke-opacity="0.7"/>
<rect x="523.64" y="238.41" width="2.2" height="22.75" fill="#d04c5e"/>
<line x1="527.92" y1="254.10" x2="527.92" y2="266.65" stroke="#45a07f" stroke-width="0.6" stroke-opacity="0.7"/>
<rect x="526.82" y="259.90" width="2.2" height="1.26" fill="#45a07f"/>
<line x1="531.10" y1="246.25" x2="531.10" y2="261.94" stroke="#45a07f" stroke-width="0.6" stroke-opacity="0.7"/>
<rect x="530.00" y="250.17" width="2.2" height="9.73" fill="#45a07f"/>
<line x1="534.28" y1="250.17" x2="534.28" y2="262.73" stroke="#d04c5e" stroke-width="0.6" stroke-opacity="0.7"/>
<rect x="533.18" y="250.17" width="2.2" height="3.14" fill="#d04c5e"/>
<line x1="537.46" y1="250.17" x2="537.46" y2="258.80" stroke="#d04c5e" stroke-width="0.6" stroke-opacity="0.7"/>
<rect x="536.36" y="253.31" width="2.2" height="3.14" fill="#d04c5e"/>
<line x1="540.63" y1="241.55" x2="540.63" y2="259.59" stroke="#45a07f" stroke-width="0.6" stroke-opacity="0.7"/>
<rect x="539.53" y="243.90" width="2.2" height="12.55" fill="#45a07f"/>
<line x1="543.81" y1="237.62" x2="543.81" y2="246.25" stroke="#45a07f" stroke-width="0.6" stroke-opacity="0.7"/>
<rect x="542.71" y="241.55" width="2.2" height="2.35" fill="#45a07f"/>
<line x1="546.99" y1="212.52" x2="546.99" y2="243.11" stroke="#45a07f" stroke-width="0.6" stroke-opacity="0.7"/>
<rect x="545.89" y="217.54" width="2.2" height="24.01" fill="#45a07f"/>
<line x1="550.17" y1="217.20" x2="550.17" y2="218.11" stroke="#e6a0aa" stroke-width="0.6" stroke-opacity="0.7"/>
<rect x="549.07" y="217.31" width="2.2" height="0.80" fill="#e6a0aa"/>
</g>
<g>
<polyline points="3.47,394.21 6.65,393.02 9.82,391.85 13.00,390.11 16.18,387.69 19.36,385.33 22.54,382.86 25.72,380.17 28.90,377.80 32.07,375.96 35.25,374.29 38.43,372.23 41.61,370.08 44.79,367.24 47.97,364.49 51.15,361.98 54.32,358.14 57.50,355.53 60.68,351.20 63.86,345.55 67.04,338.44 70.22,328.60 73.39,315.56 76.57,306.96 79.75,299.24 82.93,289.78 86.11,282.47 89.29,276.98 92.47,271.31 95.64,267.78 98.82,264.31 102.00,259.59 105.18,255.82 108.36,251.26 111.54,248.52 114.72,246.91 117.89,246.09 121.07,245.30 124.25,246.09 127.43,247.38 130.61,249.03 133.79,253.78 136.97,261.39 140.14,265.70 143.32,269.94 146.50,276.84 149.68,281.52 152.86,285.32 156.04,289.28 159.21,290.89 162.39,292.24 165.57,295.14 168.75,297.69 171.93,300.91 175.11,301.93 178.29,302.83 181.46,304.52 184.64,304.83 187.82,305.07 191.00,305.65 194.18,307.73 197.36,309.86 200.54,312.17 203.71,313.81 206.89,315.30 210.07,316.20 213.25,317.22 216.43,317.45 219.61,317.49 222.78,317.34 225.96,317.95 229.14,320.22 232.32,321.99 235.50,325.05 238.68,328.97 241.86,331.44 245.03,333.36 248.21,335.28 251.39,337.76 254.57,340.70 257.75,342.89 260.93,345.36 264.11,347.75 267.28,350.10 270.46,352.26 273.64,354.14 276.82,356.11 280.00,358.03 283.18,359.90 286.35,361.67 289.53,361.98 292.71,360.92 295.89,360.04 299.07,358.73 302.25,356.76 305.43,354.37 308.60,350.96 311.78,347.39 314.96,343.35 318.14,340.13 321.32,335.78 324.50,329.97 327.68,324.40 330.85,318.18 334.03,313.20 337.21,307.91 340.39,303.51 343.57,298.18 346.75,292.26 349.92,287.36 353.10,283.48 356.28,279.99 359.46,275.93 362.64,271.91 365.82,268.49 369.00,267.63 372.17,267.90 375.35,268.14 378.53,268.49 381.71,267.00 384.89,266.81 388.07,268.37 391.25,270.14 394.42,273.75 397.60,275.95 400.78,278.34 403.96,280.22 407.14,282.81 410.32,286.07 413.49,288.42 416.67,289.95 419.85,290.65 423.03,292.07 426.21,292.81 429.39,292.73 432.57,291.28 435.74,289.63 438.92,289.44 442.10,289.61 445.28,292.91 448.46,295.57 451.64,297.85 454.82,299.18 457.99,299.22 461.17,299.43 464.35,299.28 467.53,297.86 470.71,296.92 473.89,295.12 477.06,293.90 480.24,292.92 483.42,292.10 486.60,291.51 489.78,291.55 492.96,292.37 496.14,293.04 499.31,293.59 502.49,293.08 505.67,291.57 508.85,287.06 512.03,282.51 515.21,277.84 518.38,274.04 521.56,270.27 524.74,267.83 527.92,265.76 531.10,264.15 534.28,262.55 537.46,261.88 540.63,259.96 543.81,258.35 546.99,255.78 550.17,252.89" fill="none" stroke="#6a9fbd" stroke-width="0.75"/>
<polyline points="3.47,385.39 6.65,383.81 9.82,382.74 13.00,380.92 16.18,378.47 19.36,376.68 22.54,373.80 25.72,370.63 28.90,367.82 32.07,365.94 35.25,363.19 38.43,360.65 41.61,357.42 44.79,353.56 47.97,350.51 51.15,347.28 54.32,342.48 57.50,340.44 60.68,334.59 63.86,325.17 67.04,313.69 70.22,296.55 73.39,273.71 76.57,260.37 79.75,247.98 82.93,232.29 86.11,222.47 89.29,213.52 92.47,208.03 95.64,210.38 98.82,214.93 102.00,222.62 105.18,237.92 108.36,242.16 111.54,249.06 114.72,261.53 117.89,269.71 121.07,277.08 124.25,284.14 127.43,284.38 130.61,283.12 133.79,284.93 136.97,284.85 140.14,289.24 143.32,290.81 146.50,292.15 149.68,293.32 152.86,293.56 156.04,294.42 159.21,297.40 162.39,301.36 165.57,305.36 168.75,310.53 171.93,312.57 175.11,313.04 178.29,313.52 181.46,315.71 184.64,316.10 187.82,315.71 191.00,313.91 194.18,314.11 197.36,314.36 200.54,313.81 203.71,315.04 206.89,317.55 210.07,318.88 213.25,318.72 216.43,318.80 219.61,319.27 222.78,320.76 225.96,321.78 229.14,326.08 232.32,330.16 235.50,335.06 238.68,340.39 241.86,344.00 245.03,348.00 248.21,351.77 251.39,356.24 254.57,360.63 257.75,364.01 260.93,364.63 264.11,365.34 267.28,365.15 270.46,364.13 273.64,364.29 276.82,364.21 280.00,364.29 283.18,363.57 286.35,362.70 289.53,359.96 292.71,357.21 295.89,354.73 299.07,352.30 302.25,349.40 305.43,344.46 308.60,337.71 311.78,330.49 314.96,323.13 318.14,317.56 321.32,311.60 324.50,302.74 327.68,294.08 330.85,284.06 334.03,277.00 337.21,271.36 340.39,269.32 343.57,265.86 346.75,261.39 349.92,257.16 353.10,255.35 356.28,257.24 359.46,257.78 362.64,259.75 365.82,259.98 369.00,263.90 372.17,266.49 375.35,270.41 378.53,275.59 381.71,276.85 384.89,278.26 388.07,279.51 391.25,282.50 394.42,287.75 397.60,291.91 400.78,292.77 403.96,293.95 407.14,295.20 410.32,296.54 413.49,299.99 416.67,301.64 419.85,301.79 423.03,301.64 426.21,297.87 429.39,293.56 432.57,289.79 435.74,285.32 438.92,283.67 442.10,282.68 445.28,285.82 448.46,289.51 451.64,293.90 454.82,296.73 457.99,300.57 461.17,305.31 464.35,308.76 467.53,310.41 470.71,310.17 473.89,307.55 477.06,301.98 480.24,296.33 483.42,290.29 486.60,286.29 489.78,282.53 492.96,279.44 496.14,277.32 499.31,276.77 502.49,275.98 505.67,275.59 508.85,272.14 512.03,268.69 515.21,265.39 518.38,261.79 521.56,258.02 524.74,256.22 527.92,254.21 531.10,251.54 534.28,249.11 537.46,248.17 540.63,247.77 543.81,248.01 546.99,246.16 550.17,243.99" fill="none" stroke="#e9a860" stroke-width="0.7"/>
<polyline points="3.47,384.36 6.65,383.54 9.82,383.07 13.00,380.68 16.18,375.79 19.36,369.01 22.54,364.05 25.72,358.18 28.90,354.95 32.07,356.08 35.25,357.37 38.43,357.24 41.61,356.65 44.79,352.16 47.97,344.94 51.15,337.19 54.32,327.71 57.50,324.23 60.68,317.01 63.86,305.40 67.04,290.18 70.22,265.39 73.39,223.19 76.57,203.73 79.75,190.55 82.93,174.39 86.11,179.54 89.29,203.86 92.47,212.33 95.64,230.22 98.82,255.48 102.00,265.71 105.18,271.98 108.36,271.98 111.54,267.90 114.72,267.59 117.89,273.71 121.07,282.18 124.25,296.30 127.43,300.85 130.61,298.66 133.79,296.15 136.97,287.52 140.14,282.18 143.32,280.77 146.50,285.63 149.68,290.50 152.86,299.60 156.04,306.66 159.21,314.03 162.39,317.08 165.57,320.21 168.75,321.47 171.93,318.49 175.11,312.06 178.29,309.95 181.46,311.21 184.64,310.74 187.82,312.93 191.00,315.76 194.18,318.27 197.36,317.52 200.54,316.89 203.71,317.14 206.89,319.34 210.07,319.49 213.25,319.93 216.43,320.72 219.61,321.41 222.78,322.19 225.96,324.07 229.14,332.23 232.32,339.61 235.50,348.71 238.68,358.59 241.86,363.93 245.03,363.77 248.21,363.93 251.39,363.77 254.57,362.67 257.75,364.08 260.93,365.50 264.11,366.75 267.28,366.53 270.46,365.59 273.64,364.49 276.82,362.92 280.00,361.82 283.18,360.60 286.35,359.82 289.53,355.42 292.71,351.50 295.89,347.64 299.07,344.00 302.25,338.98 305.43,333.49 308.60,323.92 311.78,313.34 314.96,302.27 318.14,296.15 321.32,289.71 324.50,281.55 327.68,274.81 330.85,265.86 334.03,257.86 337.21,253.00 340.39,257.08 343.57,256.92 346.75,256.92 349.92,256.45 353.10,257.71 356.28,257.39 359.46,258.65 362.64,262.57 365.82,263.51 369.00,270.10 372.17,275.59 375.35,282.18 378.53,288.62 381.71,290.18 384.89,286.42 388.07,283.44 391.25,282.81 394.42,286.89 397.60,293.64 400.78,299.13 403.96,304.46 407.14,307.60 410.32,306.19 413.49,306.34 416.67,304.15 419.85,299.13 423.03,295.68 426.21,289.56 429.39,280.77 432.57,275.44 435.74,271.51 438.92,271.67 442.10,275.81 445.28,290.87 448.46,303.58 451.64,316.29 454.82,321.78 457.99,325.33 461.17,319.74 464.35,313.94 467.53,304.52 470.71,298.56 473.89,289.78 477.06,284.22 480.24,278.73 483.42,276.06 486.60,274.02 489.78,275.28 492.96,274.65 496.14,275.91 499.31,277.48 502.49,277.95 505.67,275.91 508.85,269.63 512.03,261.47 515.21,253.31 518.38,245.62 521.56,240.13 524.74,242.80 527.92,246.94 531.10,249.77 534.28,252.59 537.46,256.20 540.63,252.75 543.81,249.08 546.99,242.55 550.17,235.38" fill="none" stroke="#7cc3c6" stroke-width="0.65"/>
</g>
<!-- watermark -->
<defs><linearGradient id="lg" x1="1" y1="0" x2="0" y2="1"><stop offset="0" stop-color="#f09a72"/><stop offset="1" stop-color="#dc5f56"/></linearGradient>
<linearGradient id="yg" x1="0" y1="0" x2="0" y2="1"><stop offset="0" stop-color="#fbe6a6"/><stop offset="1" stop-color="#f5c063"/></linearGradient></defs>
<circle cx="466.2" cy="381.8" r="23" fill="url(#lg)"/>
<g transform="translate(440,355) scale(0.12762)">
<path d="M112 342 C 175 325, 232 292, 262 256 C 298 226, 320 190, 307 155 C 297 122, 268 100, 238 106 C 218 86, 172 90, 156 116 C 122 116, 98 150, 110 182 C 94 212, 110 252, 150 256 C 170 262, 190 258, 205 250 C 190 282, 150 318, 112 342 Z" fill="url(#yg)"/>
<path d="M182 198 C 205 180, 242 190, 240 222 C 238 246, 218 260, 200 264" fill="none" stroke="#ea8a64" stroke-width="17" stroke-linecap="round"/>
</g>
<g fill="#c9c9c9">
<!-- 中 -->
<path d="M494.8 367.8 L499.0 369.0 L499.0 384.2 L494.8 385.2 Z"/>
<path d="M498.6 369.1 H515.5 V370.9 H498.6 Z"/>
<path d="M515.0 368.0 L518.2 367.4 L519.4 368.9 L519.0 384.8 L515.0 383.8 Z"/>
<path d="M498.6 379.9 H515.5 V382.0 H498.6 Z"/>
<path d="M504.8 363.0 L509.6 364.6 L509.6 391.0 L504.8 391.8 Z"/>
<!-- 金 -->
<path d="M536.3 363.1 L542.6 364.6 C 540 369, 534 376, 523.4 380.8 C 529 375, 533 369, 536.3 363.1 Z"/>
<path d="M540.8 368.0 C 545 371, 550 373, 555.3 373.9 L552.6 377.0 C 548 376, 544 374, 539.6 370.2 Z"/>
<path d="M532.9 375.2 H545.0 V377.3 H532.9 Z"/>
<path d="M527.3 380.3 H550.2 V382.0 H527.3 Z"/>
<path d="M537.6 375.2 H541.4 V391.0 H537.6 Z"/>
<path d="M528.6 382.9 L531.6 384.0 L534.2 389.6 L531.0 389.2 Z"/>
<path d="M548.3 382.9 L551.0 383.6 L546.6 389.2 L545.2 388.6 Z"/>
<path d="M525.1 389.6 H553.9 V391.9 H525.1 Z"/>
<!-- 网 -->
<path d="M560.0 363.4 L564.4 365.0 L564.4 390.6 L560.0 391.0 Z"/>
<path d="M564.4 365.4 H583.0 V367.8 H564.4 Z"/>
<path d="M579.2 365.4 L582.8 364.0 L584.2 365.4 L583.4 390.8 L576.5 389.8 L579.2 388.6 Z"/>
<g stroke="#c9c9c9" stroke-width="2.9" stroke-linecap="butt">
<line x1="567.2" y1="369" x2="572.3" y2="386"/>
<line x1="572.2" y1="370" x2="566.4" y2="386.5"/>
<line x1="574.2" y1="369" x2="579.0" y2="386"/>
<line x1="578.8" y1="370" x2="573.4" y2="386.5"/>
</g>
</g>
<text x="495" y="402.2" font-size="8.2" fill="#d2d2d2" textLength="88.3" lengthAdjust="spacingAndGlyphs">CNGOLD.COM.CN</text>
<g fill="none" stroke="#d0d0d0" stroke-width="0.8">
<!-- 中 small -->
<path d="M447.5 409 H456.5 V414.5 H447.5 Z M452 406.5 V418"/>
<!-- 文 -->
<path d="M472.5 406.5 V408.3 M466.5 408.8 H478.5 M469 409 C 471 414, 474 416.5, 478.5 418 M476 409 C 474 414, 471 416.5, 466.5 418"/>
<!-- 财 -->
<path d="M487.5 407.5 H492 V415.5 H487.5 Z M489.7 410 V414 M487.5 418 L489 416 M492 418 L490.5 416 M492.5 410 H499 M497 406.5 V418 L495.5 417 M497 411 L493 416"/>
<!-- 经 -->
<path d="M508.5 406.5 L506.5 410 L509.5 410 L506.5 414 L510 413 M506.5 417.5 L510.5 416 M511 407.5 H517 L512 412 M513 409.5 L517 412.5 M511.5 414 H517 M514.2 414 V417.8 M510.8 418 H517.5"/>
<!-- 新 -->
<path d="M528 406.5 V407.8 M525.5 408 H531 M526.5 409 L527.2 410.5 M530 409 L529.3 410.5 M525.5 411 H531 M528.2 411 V418 M528 414 L525.5 417 M528.4 414 L531 416 M536 406.5 L532.5 408.5 V418 M532.5 411 H537.5 M535.5 411 V418"/>
<!-- 媒 -->
<path d="M548 406.5 C 547 411, 546.5 414, 546 414.8 L551.5 418 M546 410 H551.5 C 551 414, 549 416.5, 546.5 418 M551.5 408.5 H558 M553.5 406.5 V411.5 H556.5 V406.5 M553.5 409.5 H556.5 M551.5 412.5 H558 M555 411.5 V418 M555 413 L552 417 M555 413 L558 417"/>
<!-- 体 -->
<path d="M570.5 406.5 L568 411 M569.5 409.5 V418 M572 410 H580 M576 406.5 V418 M576 410.5 L572 416 M576 410.5 L580 416 M573.5 415.5 H578.5"/>
</g>
<!-- frame -->
<g stroke="#8c8c8c" stroke-width="0.9" fill="none">
<line x1="3" y1="11.5" x2="3" y2="414"/>
<line x1="567.5" y1="11" x2="567.5" y2="414"/>
<line x1="3" y1="401.3" x2="598" y2="401.3"/>
<line x1="3" y1="413.8" x2="598" y2="413.8"/>
</g>
<!-- header -->
<g font-size="6" font-family="Liberation Sans">
<text x="2.7" y="7.1" font-weight="bold" fill="#222" textLength="65.6" lengthAdjust="spacingAndGlyphs">COINBASE:BTCUSD, 1W</text>
<text x="71.3" y="7.1" fill="#333" textLength="25.2" lengthAdjust="spacingAndGlyphs">13033.64</text>
<path d="M98.6 3.3 L101.9 3.3 L100.25 7 Z" fill="#e0505e"/>
<text x="104.3" y="7.1" fill="#333" textLength="17.7" lengthAdjust="spacingAndGlyphs">−11.30</text>
<text x="124.2" y="7.1" fill="#333" textLength="25.8" lengthAdjust="spacingAndGlyphs">(−0.09%)</text>
<text x="150.9" y="7.1" font-weight="bold" fill="#222" textLength="4.6" lengthAdjust="spacingAndGlyphs">O:</text>
<text x="156.8" y="7.1" fill="#d8838f" textLength="23.3" lengthAdjust="spacingAndGlyphs">13044.92</text>
<text x="184.8" y="7.1" font-weight="bold" fill="#222" textLength="4.6" lengthAdjust="spacingAndGlyphs">H:</text>
<text x="190.6" y="7.1" fill="#d8838f" textLength="26.2" lengthAdjust="spacingAndGlyphs">13051.58</text>
<text x="219" y="7.1" font-weight="bold" fill="#222" textLength="4.2" lengthAdjust="spacingAndGlyphs">L:</text>
<text x="224.3" y="7.1" fill="#d8838f" textLength="24" lengthAdjust="spacingAndGlyphs">12993.51</text>
<text x="251.2" y="7.1" font-weight="bold" fill="#222" textLength="4.6" lengthAdjust="spacingAndGlyphs">C:</text>
<text x="257.6" y="7.1" fill="#d8838f" textLength="25.1" lengthAdjust="spacingAndGlyphs">13033.64</text>
</g>
<g font-size="5.9" fill="#3c3c3c">
<text x="8" y="21.0">Bitcoin / U.S. Dollar, 1W, COINBASE</text>
<text x="8" y="29.0">MA (20, close, 0)</text>
<text x="8" y="37.0">MA (10, close, 0)</text>
<text x="8" y="45.0">MA (5, close, 0)</text>
</g>
<!-- right axis -->
<g font-size="5" fill="#444">
<line x1="567.5" y1="390.60" x2="570" y2="390.60" stroke="#555" stroke-width="0.7"/>
<text x="572" y="392.40">2000.00</text>
<line x1="567.5" y1="374.91" x2="570" y2="374.91" stroke="#555" stroke-width="0.7"/>
<text x="572" y="376.71">3000.00</text>
<line x1="567.5" y1="359.22" x2="570" y2="359.22" stroke="#555" stroke-width="0.7"/>
<text x="572" y="361.02">4000.00</text>
<line x1="567.5" y1="343.53" x2="570" y2="343.53" stroke="#555" stroke-width="0.7"/>
<text x="572" y="345.33">5000.00</text>
<line x1="567.5" y1="327.84" x2="570" y2="327.84" stroke="#555" stroke-width="0.7"/>
<text x="572" y="329.64">6000.00</text>
<line x1="567.5" y1="312.15" x2="570" y2="312.15" stroke="#555" stroke-width="0.7"/>
<text x="572" y="313.95">7000.00</text>
<line x1="567.5" y1="296.46" x2="570" y2="296.46" stroke="#555" stroke-width="0.7"/>
<text x="572" y="298.26">8000.00</text>
<line x1="567.5" y1="280.77" x2="570" y2="280.77" stroke="#555" stroke-width="0.7"/>
<text x="572" y="282.57">9000.00</text>
<line x1="567.5" y1="265.08" x2="570" y2="265.08" stroke="#555" stroke-width="0.7"/>
<text x="572" y="266.88">10000.00</text>
<line x1="567.5" y1="249.39" x2="570" y2="249.39" stroke="#555" stroke-width="0.7"/>
<text x="572" y="251.19">11000.00</text>
<line x1="567.5" y1="202.32" x2="570" y2="202.32" stroke="#555" stroke-width="0.7"/>
<text x="572" y="204.12">14000.00</text>
<line x1="567.5" y1="186.63" x2="570" y2="186.63" stroke="#555" stroke-width="0.7"/>
<text x="572" y="188.43">15000.00</text>
<line x1="567.5" y1="170.94" x2="570" y2="170.94" stroke="#555" stroke-width="0.7"/>
<text x="572" y="172.74">16000.00</text>
<line x1="567.5" y1="155.25" x2="570" y2="155.25" stroke="#555" stroke-width="0.7"/>
<text x="572" y="157.05">17000.00</text>
<line x1="567.5" y1="139.56" x2="570" y2="139.56" stroke="#555" stroke-width="0.7"/>
<text x="572" y="141.36">18000.00</text>
<line x1="567.5" y1="123.87" x2="570" y2="123.87" stroke="#555" stroke-width="0.7"/>
<text x="572" y="125.67">19000.00</text>
<line x1="567.5" y1="108.18" x2="570" y2="108.18" stroke="#555" stroke-width="0.7"/>
<text x="572" y="109.98">20000.00</text>
<line x1="567.5" y1="92.49" x2="570" y2="92.49" stroke="#555" stroke-width="0.7"/>
<text x="572" y="94.29">21000.00</text>
<line x1="567.5" y1="76.80" x2="570" y2="76.80" stroke="#555" stroke-width="0.7"/>
<text x="572" y="78.60">22000.00</text>
<line x1="567.5" y1="61.11" x2="570" y2="61.11" stroke="#555" stroke-width="0.7"/>
<text x="572" y="62.91">23000.00</text>
<line x1="567.5" y1="45.42" x2="570" y2="45.42" stroke="#555" stroke-width="0.7"/>
<text x="572" y="47.22">24000.00</text>
<line x1="567.5" y1="29.73" x2="570" y2="29.73" stroke="#555" stroke-width="0.7"/>
<text x="572" y="31.53">25000.00</text>
<line x1="567.5" y1="14.04" x2="570" y2="14.04" stroke="#555" stroke-width="0.7"/>
<text x="572" y="15.84">26000.00</text>
</g>
<rect x="575" y="16" width="15" height="6" fill="#fff" stroke="#ccc" stroke-width="0.5"/>
<text x="582.5" y="20.8" font-size="4.6" fill="#555" text-anchor="middle">USD</text>
<rect x="567.3" y="214" width="29.5" height="7.4" fill="#1eb0cc"/>
<text x="582" y="219.6" font-size="5" fill="#e8fbff" text-anchor="middle">13044.71</text>
<text x="572" y="227.6" font-size="5" fill="#333">13033.64</text>
<text x="572" y="235.4" font-size="5" fill="#333">1d 7h 06</text>
<!-- time axis -->
<g font-size="5" fill="#3a3a3a">
<text x="42" y="409.8" text-anchor="middle">Oct</text>
<text x="83" y="409.8" text-anchor="middle">2018</text>
<text x="125" y="409.8" text-anchor="middle">Apr</text>
<text x="166" y="409.8" text-anchor="middle">Jul</text>
<text x="206.5" y="409.8" text-anchor="middle">Oct</text>
<text x="248" y="409.8" text-anchor="middle">2019</text>
<text x="289" y="409.8" text-anchor="middle">Apr</text>
<text x="331" y="409.8" text-anchor="middle">Jul</text>
<text x="376" y="409.8" text-anchor="middle">Oct</text>
<text x="416.5" y="409.8" text-anchor="middle">2020</text>
<text x="457.5" y="409.8" text-anchor="middle">Apr</text>
<text x="500" y="409.8" text-anchor="middle">Jul</text>
<text x="544" y="409.8" text-anchor="middle">Oct</text>
</g>
<!-- tradingview logo -->
<path d="M2.6 426.2 C 2.4 423.8, 4 422.3, 6 422.2 C 7 419.8, 10.2 419.2, 12 421.4 C 14.2 421.4, 15.4 423.4, 15 426.2 Z" fill="#2a8ed4"/>
<path d="M4.2 425 L7 422.8 L9.6 424.8 L12.6 422.4" fill="none" stroke="#fff" stroke-width="0.7" stroke-opacity="0.8"/>
<text x="16.2" y="424.6" font-size="6" fill="#333" textLength="34" lengthAdjust="spacingAndGlyphs">TradingView</text>
</svg>
</body></html>
